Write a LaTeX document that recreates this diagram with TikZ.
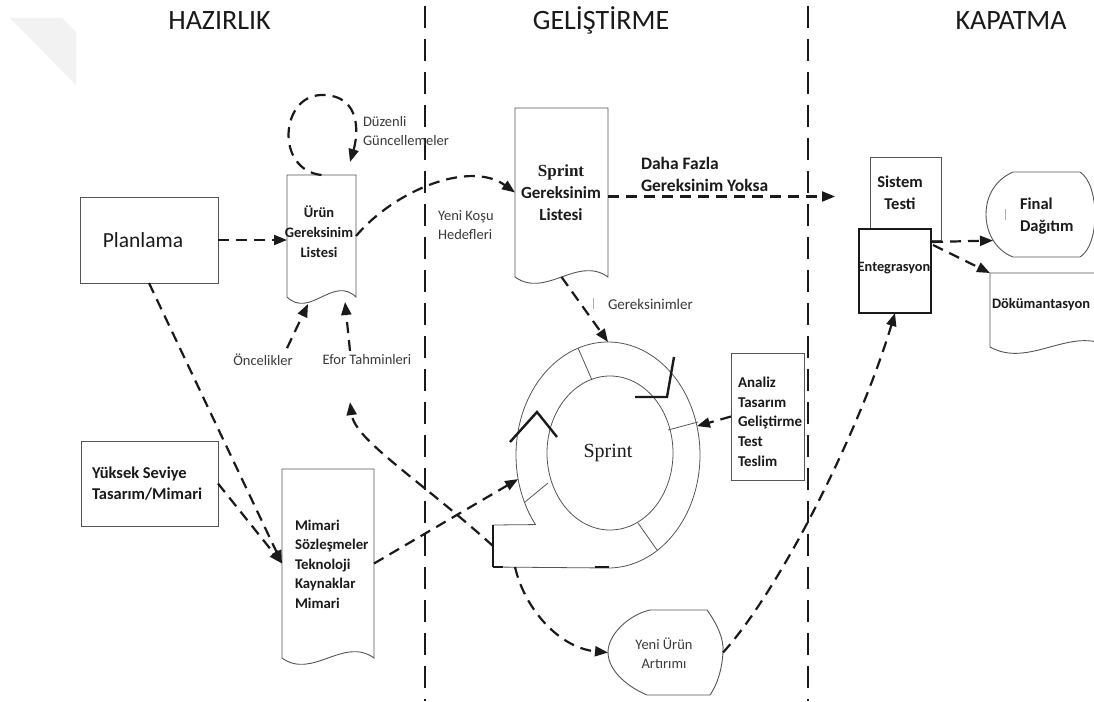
\documentclass[tikz,border=0pt]{standalone}
\usepackage{fontspec}
\setmainfont{Carlito}
\newfontfamily\serifface{Liberation Serif}
\usetikzlibrary{arrows.meta,calc,shapes.geometric}

\definecolor{ink}{HTML}{1A1A1A}
\definecolor{labelink}{HTML}{3A3A3A}
\definecolor{edge}{HTML}{555555}

\tikzset{
  phase/.style={draw=ink, line width=2.6pt, dash pattern=on 22pt off 11pt},
  conn/.style={draw=ink, line width=2.2pt, dash pattern=on 11pt off 7pt,
               -{Triangle[length=13pt,width=10pt]}},
  outline/.style={draw=edge, line width=0.9pt, fill=white},
  ringline/.style={draw=edge, line width=0.8pt},
  thickmark/.style={draw=ink, line width=2.4pt},
  area/.style 2 args={minimum width=#1, minimum height=#2, inner sep=0pt, outer sep=0pt},
  txt/.style={inner sep=0pt, outer sep=0pt, text=ink},
  title/.style={txt, font=\fontsize{28}{34}\selectfont, anchor=base},
  lbl/.style={txt, text=labelink, font=\fontsize{14.5}{19.5}\selectfont, align=left}
}

% document symbol with a wavy lower edge around a named node
\newcommand{\docoutline}[1]{%
  \draw[outline] (#1.south west) -- (#1.north west) -- (#1.north east) -- (#1.south east)
    .. controls ($(#1.south east)!0.33!(#1.south west)+(0,-22)$)
           and ($(#1.south east)!0.67!(#1.south west)+(0,22)$) .. (#1.south west) -- cycle;}

\begin{document}
\begin{tikzpicture}[x=1pt,y=-1pt]
\clip (0,0) rectangle (1094,701);
\fill[white] (0,0) rectangle (1094,701);
\fill[black!5] (10,18) -- (62,18) -- (76,32) -- (76,85) -- cycle;

% phase titles and separators
\node[title] (tH) at (219.5,30) {HAZIRLIK};
\node[title] (tG) at (601,30) {GELİŞTİRME};
\node[title] (tK) at (1011,30) {KAPATMA};
\draw[phase] (425,6) -- (425,701);
\draw[phase] (808,6) -- (808,701);

% node frames
\node[area={138}{86}, draw=edge, line width=0.9pt] (planl) at (149,240) {};
\node[area={69}{122}] (urun) at (321.5,236) {};
\node[area={93}{169}] (sgl) at (561.5,192.5) {};
\node[area={137}{85}, draw=edge, line width=0.9pt] (yuk) at (149.5,483.5) {};
\node[area={92}{189}] (mimari) at (328,563.5) {};
\node[area={73}{127}, draw=edge, line width=0.9pt] (analiz) at (767.5,416.5) {};
\node[area={71}{83}, draw=edge, line width=0.9pt] (sistem) at (905.5,198.5) {};
\node[area={72}{84}, draw=ink, line width=1.2pt, fill=white] (entegr) at (895,271) {};
\node[area={110}{85}] (fin) at (1041,214.5) {};
\node[area={120}{74}] (dok) at (1050,310) {};
\node[area={115}{85}] (yeni) at (665.5,652.5) {};
\node[ellipse, area={184}{226}] (ring) at (608,455) {};
\node[area={115}{42}] (foot) at (550.5,546) {};

\docoutline{urun}
\docoutline{sgl}
\docoutline{mimari}
\docoutline{dok}

% display symbols
\draw[outline] (1013,172) -- (1080,172) .. controls (1100,185) and (1100,245) .. (1080,257)
  -- (1013,257) .. controls (995,250) and (986,232) .. (986,214.5)
  .. controls (986,196) and (995,180) .. (1013,172) -- cycle;
\draw[outline] (650,610) -- (707,610) .. controls (718,625) and (724,640) .. (723,652)
  .. controls (722,670) and (717,685) .. (710,695) -- (647,695)
  .. controls (630,688) and (608,672) .. (608,652)
  .. controls (608,635) and (628,615) .. (650,610) -- cycle;

% sprint cycle
\draw[ringline] plot[domain=90:-218, samples=160, variable=\t]
  ({608+92*cos(\t)},{455+113*sin(\t)}) -- (493,525) -- (493,567) -- cycle;
\draw[ringline] (610,453) ellipse [x radius=63, y radius=77];
\draw[ringline] (578,348) -- (592,380);
\draw[ringline] (668,430) -- (698,422);
\draw[ringline] (638,523) -- (657,550);
\draw[ringline] (525,502) -- (548,483);
\draw[thickmark] (674,357) -- (667,397) -- (635,397);
\draw[thickmark] (510,442) -- (537,412) -- (557,437);
\draw[draw=ink, line width=1.8pt] (493,525) -- (493,567);
\draw[draw=ink, line width=2.6pt] (493,567) -- (503,567);
\draw[draw=ink, line width=2.6pt] (595,567) -- (609,567);

% labels
\node[txt, font=\fontsize{21.5}{26}\selectfont] (planltxt) at (143,240) {Planlama};
\node[txt, font=\fontsize{14.5}{20}\selectfont\bfseries, align=center] (uruntxt) at (319,232)
  {Ürün\\Gereksinim\\Listesi};
\node[lbl, anchor=west] (duz) at (363,131) {Düzenli\\Güncellemeler};
\node[lbl, anchor=west] (kosu) at (438,225) {Yeni Koşu\\Hedefleri};
\node[txt, font=\fontsize{17}{22}\selectfont\bfseries, align=center] (sgltxt) at (561,193)
  {{\serifface\bfseries Sprint}\\Gereksinim\\Listesi};
\node[txt, font=\fontsize{17.5}{22}\selectfont\bfseries, align=left, anchor=west] (daha) at (641,174)
  {Daha Fazla\\Gereksinim Yoksa};
\node[lbl, anchor=west, font=\fontsize{15}{19}\selectfont] (gerek) at (608,304) {Gereksinimler};
\node[lbl] (onc) at (263,360) {Öncelikler};
\node[lbl] (efor) at (367,360) {Efor Tahminleri};
\node[txt, font=\fontsize{20}{24}\selectfont\serifface] (sprinttxt) at (608,453) {Sprint};
\node[txt, font=\fontsize{15}{19.7}\selectfont\bfseries, align=left, anchor=west] (analiztxt) at (738,421.5)
  {Analiz\\Tasarım\\Geliştirme\\Test\\Teslim};
\node[txt, font=\fontsize{16.5}{21}\selectfont\bfseries, align=left, anchor=west] (yuktxt) at (92,484)
  {Yüksek Seviye\\Tasarım/Mimari};
\node[txt, font=\fontsize{14.8}{19.5}\selectfont\bfseries, align=left, anchor=west] (mimaritxt) at (295,564)
  {Mimari\\Sözleşmeler\\Teknoloji\\Kaynaklar\\Mimari};
\node[lbl, align=center] (yenitxt) at (664,653) {Yeni Ürün\\Artırımı};
\node[txt, font=\fontsize{16.5}{22}\selectfont\bfseries, align=center] (sistemtxt) at (900,193)
  {Sistem\\Testi};
\node[txt, font=\fontsize{14.3}{16}\selectfont\bfseries] (entegrtxt) at (894,268) {Entegrasyon};
\node[txt, font=\fontsize{16.5}{22}\selectfont\bfseries, align=left, anchor=west] (fintxt) at (1020,216)
  {Final\\Dağıtım};
\node[txt, font=\fontsize{14.5}{16}\selectfont\bfseries, anchor=west] (doktxt) at (992,305) {Dökümantasyon};
\draw[red!45, line width=0.7pt] (593,298) -- (593,309);
\draw[red!45, line width=0.7pt] (1005,209) -- (1005,220);

% connectors
\coordinate (loopend) at ($(urun.north east)+(-6,-13)$);
\coordinate (noreq) at (835,196.5);
\coordinate (efortip) at ($(efor.south)+(-17,37)$);

\draw[conn] (planl.east) -- (planl.east -| urun.west);
\draw[conn] (urun.north) .. controls (275,170) and (280,95) .. (322,95)
  .. controls (362,95) and (358,135) .. (loopend);
\draw[conn] (urun.east) .. controls (395,190) and (470,160) .. (sgl.west);
\draw[conn] (sgl.east |- noreq) -- (noreq);
\draw[conn] (sgl.south) -- (ring.north);
\draw[conn] (analiz.west) -- (ring.18);
\draw[conn] (mimari.east) -- (ring.195);
\draw[conn] (planl.south) -- (mimari.west);
\draw[conn] (yuk.east) -- (mimari.west);
\draw[conn] ($(onc.north)+(24,-6)$) -- ($(urun.south west)+(21,7)$);
\draw[conn] ($(efor.north)+(-17,-4)$) -- ($(urun.south east)+(-11,5)$);
\draw[conn] (foot.west) .. controls (420,480) and (355,440) .. (efortip);
\draw[conn] ([xshift=22pt]foot.south west) .. controls (525,610) and (560,648) .. (yeni.west);
\draw[conn] (yeni.east) .. controls (780,590) and (860,430) .. (entegr.south);
\draw[conn] ($(entegr.north east)+(1,13)$) -- ($(fin.west)+(7,26)$);
\draw[conn] ($(entegr.north east)+(2,16)$) -- (dok.north west);
\end{tikzpicture}
\end{document}
